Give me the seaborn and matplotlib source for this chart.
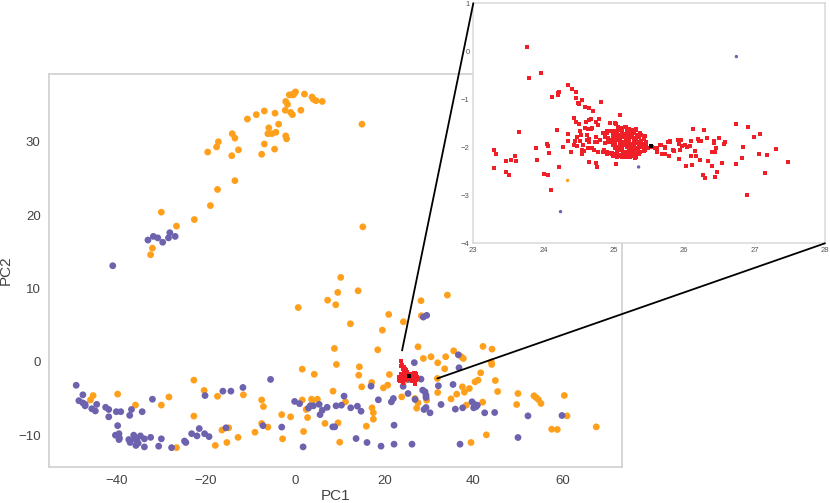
import matplotlib
matplotlib.use("Agg")
import matplotlib.pyplot as plt
from matplotlib.patches import ConnectionPatch
import seaborn as sns
import pandas as pd

# ---------------- data ----------------
orange_pc1 = [-32.4, -32.0, -30.0, -26.6, -22.6, -19.6, -19.0, -17.6, -17.2, -17.4, -14.1, -13.5, -14.2, -13.5,
              -12.7, -10.7, -8.7, -6.9, -7.5, -6.9, -5.9, -6.1, -5.2, -4.3, -3.7, -4.6, -4.5, -2.2, -2.1, -1.9,
              -2.1, -1.7, -1.0, -0.6, -1.3, -0.7, -0.2, 0.1, -0.4, 1.3, 2.1, 3.8, 4.1, 4.7, 6.1, 15.0, 15.2,
              -22.7, -22.7, -20.4, -17.4, -11.6, -39.8, -45.9, -45.3, -35.8, -30.0, -28.3, -26.6, -17.9, -16.4,
              -14.9, -15.3, -12.8, -9.0, -7.5, -7.1, -7.5, -6.1, -3.0, -2.8, -1.0, 0.7, 1.6, 4.3, 1.6, 1.9, 2.5,
              2.8, 3.7, 3.9, 5.0, 6.7, 7.3,
              10.24, 9.57, 9.12, 14.13, 34.16, 28.25, 12.41, 21.00, 24.29, 28.33, 19.58, 8.82, 18.54, 9.27, 14.42,
              14.28, 21.15, 14.95, 17.19, 19.81, 20.78, 8.52, 11.29, 27.58, 28.77, 30.49, 31.99, 33.78, 33.56,
              35.58, 37.29, 37.74, 42.15, 44.17, 44.02, 44.10, 41.63, 40.36, 41.03, 44.92, 31.91, 31.99, 36.25,
              37.52, 37.97, 39.09, 34.98, 38.42, 42.08, 45.44, 23.92, 26.91, 27.58, 29.52, 27.28, 17.26, 17.56,
              17.56, 15.99, 9.64, 10.01, 39.46, 42.90, 49.70, 50.00, 53.59, 54.04, 54.56, 55.16, 60.39, 60.99,
              57.55, 58.82, 67.56, 24.34]
orange_pc2 = [14.6, 15.5, 20.4, 18.5, 19.4, 28.6, 21.3, 29.3, 30.0, 23.5, 31.1, 30.5, 28.1, 24.7,
              28.9, 33.1, 33.7, 34.2, 28.3, 29.7, 31.9, 31.1, 31.1, 31.3, 32.4, 29.0, 33.9, 34.3, 30.8, 30.4,
              35.5, 35.1, 34.0, 33.7, 36.4, 36.4, 36.6, 36.8, 36.4, 34.3, 36.5, 36.1, 35.8, 35.6, 35.5, 32.4, 18.4,
              -2.5, -7.4, -3.9, -4.7, -4.5, -4.4, -5.2, -4.6, -5.9, -5.9, -4.8, -11.7, -11.4, -9.3,
              -9.0, -11.0, -10.3, -9.6, -5.2, -6.1, -8.4, -8.9, -7.2, -10.5, -7.5, 7.4, -1.0, -1.7, -5.2, -9.5, -6.5,
              -7.6, -5.1, -5.3, -5.1, -8.4, 8.4,
              11.51, 9.46, 7.78, 9.69, 9.10, 8.33, 5.19, 6.46, 5.46, 6.28, 4.32, 1.82, 1.64, -0.36, -0.68,
              -1.82, -1.73, -3.41, -2.82, -3.55, -3.18, -4.00, -5.46, 2.05, 0.46, 0.69, -0.13, 0.69, -0.95,
              1.50, 0.69, 0.46, 2.10, 1.73, 0.00, -0.36, -1.50, -2.73, -2.50, -2.55, -2.27, -4.18, -4.41,
              -3.41, -4.14, -3.64, -5.05, -5.91, -5.50, -4.05, -4.78, -5.00, -5.59, -5.23, -6.32, -6.27, -6.95,
              -7.82, -8.78, -8.32, -10.96, -11.00, -9.96, -5.82, -4.32, -4.64, -4.86, -5.14, -5.68, -4.59, -7.37,
              -9.19, -9.23, -8.87, -2.69]

purple_pc1 = [-33.0, -31.8, -30.8, -29.7, -28.4, -28.1, -26.9,
              -40.9, -49.1, -48.5, -47.6, -47.6, -47.1, -47.1, -45.6, -44.8, -44.5, -42.5, -41.8, -41.8, -40.1,
              -39.1, -39.8, -40.3, -39.5, -39.4, -39.5, -37.1, -36.7, -37.3, -37.0, -36.2, -35.9, -35.5, -35.7,
              -35.2, -34.7, -33.8, -33.8, -34.3, -32.4, -32.0, -30.6, -30.0, -27.7, -24.8, -24.5, -23.2, -22.0,
              -21.5, -20.3, -19.3, -20.2, -16.2, -14.4, -15.5, -11.7, -5.5, -7.2, -3.0, -0.1, 1.0, 1.8, 3.0,
              3.4, 4.1, 5.4, 5.6, 6.1, 7.2,
              28.77, 29.52, 26.74, 24.24, 25.34, 26.91, 28.25, 28.62, 29.15, 29.37, 29.37, 28.92, 29.37, 30.27,
              32.14, 32.74, 35.43, 35.95, 36.62, 36.77, 37.59, 39.69, 40.13, 40.58, 40.88, 40.06, 42.53, 44.77,
              52.24, 59.87, 50.00, 37.00, 26.23, 22.20, 19.28, 16.14, 13.68, 22.20, 8.45, 8.89, 10.99, 12.48,
              13.98, 14.80, 17.04, 18.68, 21.60, 22.05, 9.19, 10.39, 25.35]
purple_pc2 = [16.6, 17.1, 16.9, 16.3, 16.9, 17.6, 17.1,
              13.1, -3.2, -5.3, -4.5, -5.6, -5.8, -6.0, -6.4, -6.7, -5.8, -6.2, -7.5, -6.5, -6.8,
              -6.8, -8.7, -10.0, -9.8, -10.4, -10.6, -7.3, -6.5, -10.6, -11.0, -10.0, -10.5, -10.7, -11.4,
              -11.1, -10.1, -10.5, -11.6, -6.8, -10.3, -5.1, -11.5, -10.5, -11.7, -10.8, -11.0, -9.8, -10.1,
              -9.1, -9.8, -10.2, -4.6, -4.0, -4.0, -9.0, -3.5, -2.4, -8.7, -8.9, -5.4, -5.7, -11.6, -6.3,
              -6.0, -6.0, -5.8, -7.2, -6.6, -6.2,
              6.10, 6.33, -0.11, -3.34, -4.32, -5.13, -2.36, -3.86, -4.09, -4.55, -4.86, -6.50, -6.23, -6.95,
              -3.27, -5.82, -3.09, -6.45, 0.96, -0.81, -6.27, -5.45, -5.77, -6.13, -5.91, -6.27, -6.95, -6.91,
              -7.37, -7.32, -10.32, -11.23, -11.23, -11.23, -11.50, -11.00, -10.46, -8.64, -8.87, -8.87, -4.68, -6.27,
              -6.05, -6.73, -3.32, -5.18, -5.46, -5.00, -6.00, -5.91, -2.41]

red_pc1 = [23.76, 23.79, 23.96, 24.12, 24.20, 24.21, 24.22, 24.35, 24.41, 24.46, 24.46, 24.49, 24.50, 24.55,
           24.59, 24.65, 24.70, 24.82, 23.65, 23.29, 23.32, 23.30, 23.46, 23.51, 23.47, 23.53, 23.59, 23.61,
           23.89, 23.90, 24.05, 24.06, 24.07, 24.01, 24.06, 24.11, 24.22, 24.19, 24.27, 24.35, 24.34, 24.39,
           24.43, 24.46, 24.50, 24.52, 24.47, 24.53, 24.45, 24.43, 24.48, 24.52, 24.56, 24.54, 24.54, 24.57,
           24.61, 24.62, 24.60, 24.64, 24.67, 24.59, 24.63, 24.67, 24.69, 24.74, 24.77, 24.79, 24.74, 24.76,
           24.65, 24.65, 24.63, 24.69, 24.71, 24.77, 24.65, 24.74, 24.76,
           24.94, 25.03, 25.08, 24.95, 24.85, 24.90, 24.97, 24.92, 24.87, 24.80, 24.73, 24.86, 24.90, 24.97,
           25.02, 25.06, 25.13, 25.23, 25.30, 25.03, 25.02, 25.12, 25.16, 25.25, 25.32, 24.90, 24.87, 24.92,
           24.97, 24.94, 24.99, 24.85, 24.90, 24.94, 24.99, 25.04, 24.97, 25.09, 25.18, 25.23, 25.32, 25.42,
           25.44, 25.49, 25.54, 25.23, 25.27, 25.32, 25.37, 25.44,
           25.06, 25.11, 25.17, 25.21,
           25.01, 25.07, 25.12, 25.18, 25.24, 25.29,
           24.99, 25.05, 25.10, 25.16, 25.21, 25.27, 25.33, 25.38,
           24.98, 25.04, 25.09, 25.14, 25.20, 25.25, 25.31, 25.36, 25.42,
           25.00, 25.06, 25.11, 25.17, 25.22, 25.28, 25.33, 25.39, 25.45,
           25.02, 25.08, 25.13, 25.19, 25.24, 25.30, 25.35, 25.41, 25.46,
           25.01, 25.07, 25.12, 25.18, 25.23, 25.29, 25.34, 25.40, 25.45,
           25.04, 25.10, 25.15, 25.21, 25.26, 25.32, 25.37, 25.42,
           25.07, 25.13, 25.19, 25.24, 25.30, 25.35,
           25.12, 25.18, 25.25, 25.31,
           25.58, 25.67, 25.61, 25.73, 25.73, 25.68, 25.77, 25.61, 25.66, 25.72, 25.78, 25.80, 25.85,
           25.65, 25.72, 25.69, 25.78, 25.79, 25.84, 25.91, 25.95, 25.93, 25.96, 25.93, 25.94, 26.01, 26.04,
           26.08, 26.10, 26.03, 26.12, 26.09, 26.11, 26.15, 26.17, 26.19, 26.21, 26.24, 26.23, 26.28, 26.32,
           26.33, 26.27, 26.30, 26.39, 26.42, 26.42, 26.45, 26.44, 26.40, 26.47, 26.43, 26.49, 26.53, 26.56,
           26.58, 26.74, 26.74, 26.84, 26.82, 26.90, 26.89, 26.99, 27.07, 27.06, 27.15, 27.18, 27.30, 27.48]
red_pc2 = [0.08, -0.56, -0.46, -0.96, -0.86, -0.91, -0.84, -0.71, -0.78, -0.85, -0.97, -1.07, -1.10, -1.01,
           -1.15, -1.19, -1.25, -1.05, -1.69, -2.06, -2.13, -2.44, -2.51, -2.58, -2.29, -2.27, -2.18, -2.29,
           -2.02, -2.26, -1.94, -1.97, -2.12, -2.56, -2.57, -2.88, -2.40, -1.63, -1.99, -1.72, -1.86, -2.10,
           -1.38, -1.48, -1.52, -1.65, -1.78, -1.75, -1.86, -1.95, -1.97, -1.86, -1.96, -2.06, -2.14, -2.07,
           -1.75, -1.85, -1.47, -1.44, -1.40, -1.60, -1.61, -1.61, -1.60, -1.47, -1.54, -1.42, -1.78, -1.89,
           -1.89, -1.83, -2.01, -2.01, -2.06, -2.09, -2.31, -2.33, -2.42,
           -1.50, -1.52, -1.33, -1.65, -1.71, -1.71, -1.85, -1.88, -1.92, -1.85, -1.88, -2.06, -2.09, -2.11,
           -2.13, -2.18, -2.21, -2.21, -2.23, -2.35, -1.50, -1.67, -1.57, -1.64, -1.62, -1.67, -1.78, -1.81,
           -1.67, -1.88, -1.95, -2.09, -2.13, -2.11, -2.18, -2.21, -2.14, -2.18, -2.14, -2.18, -2.13, -1.78,
           -2.06, -2.02, -1.99, -1.63, -1.65, -1.63, -1.71, -1.77,
           -1.57, -1.60, -1.58, -1.61,
           -1.66, -1.64, -1.67, -1.65, -1.66, -1.68,
           -1.73, -1.71, -1.74, -1.72, -1.73, -1.71, -1.74, -1.75,
           -1.80, -1.78, -1.81, -1.79, -1.80, -1.78, -1.81, -1.79, -1.82,
           -1.87, -1.85, -1.88, -1.86, -1.87, -1.85, -1.88, -1.86, -1.89,
           -1.94, -1.92, -1.95, -1.93, -1.94, -1.92, -1.95, -1.93, -1.96,
           -2.01, -1.99, -2.02, -2.00, -2.01, -1.99, -2.02, -2.00, -2.02,
           -2.08, -2.06, -2.09, -2.07, -2.08, -2.06, -2.09, -2.07,
           -2.15, -2.13, -2.16, -2.14, -2.15, -2.13,
           -2.20, -2.21, -2.19, -2.20,
           -2.02, -1.95, -2.09, -2.00, -2.13, -2.13, -1.88, -2.01, -1.96, -2.02, -2.19, -1.88, -2.07,
           -1.95, -2.02, -2.13, -2.19, -1.87, -2.06, -1.85, -1.85, -1.94, -1.97, -2.25, -2.06, -1.95, -2.00,
           -1.97, -1.86, -2.38, -1.61, -2.19, -2.36, -2.08, -2.19, -1.83, -1.86, -1.86, -2.26, -1.63, -1.81,
           -2.28, -2.58, -2.63, -2.09, -1.87, -1.92, -2.02, -2.09, -2.38, -2.51, -2.61, -1.81, -2.33, -1.94,
           -1.89, -2.35, -1.52, -1.99, -2.22, -1.57, -2.99, -1.78, -1.72, -2.13, -2.54, -2.15, -2.04, -2.31]

center_pc1 = [25.52]
center_pc2 = [-1.97]

main_xticks = [-40, -20, 0, 20, 40, 60]
main_yticks = [-10, 0, 10, 20, 30]
inset_xticks = [23, 24, 25, 26, 27, 28]
inset_yticks = [-4, -3, -2, -1, 0, 1]

ORANGE = "#ffa01c"
PURPLE = "#6c62ae"
RED = "#ee1f26"

df = pd.DataFrame({
    "PC1": orange_pc1 + purple_pc1,
    "PC2": orange_pc2 + purple_pc2,
    "group": ["A"] * len(orange_pc1) + ["B"] * len(purple_pc1),
})
red_df = pd.DataFrame({"PC1": red_pc1, "PC2": red_pc2})
ctr_df = pd.DataFrame({"PC1": center_pc1, "PC2": center_pc2})
pal = {"A": ORANGE, "B": PURPLE}

# ---------------- style ----------------
sns.set_theme(style="whitegrid")
plt.rcParams["font.family"] = ["Liberation Sans", "DejaVu Sans"]

fig = plt.figure(figsize=(8.3, 5.03), dpi=100)
W, H = 830, 503
ax = fig.add_axes([49 / W, (H - 466.7) / H, (622.3 - 49) / W, (466.7 - 74.3) / H])
axins = fig.add_axes([473.3 / W, (H - 243.3) / H, (825 - 473.3) / W, (243.3 - 3.3) / H])
axins.set_zorder(3)

# main
sns.scatterplot(data=df, x="PC1", y="PC2", hue="group", palette=pal, s=24,
                linewidth=0, legend=False, ax=ax)
sns.scatterplot(data=red_df, x="PC1", y="PC2", color=RED, marker="s", s=9,
                linewidth=0, legend=False, ax=ax)
sns.scatterplot(data=ctr_df, x="PC1", y="PC2", color="black", marker="s", s=9,
                linewidth=0, legend=False, ax=ax)
ax.set_xlim(-55.2, 73.4)
ax.set_ylim(-14.3, 39.2)
ax.set_xticks(main_xticks)
ax.set_yticks(main_yticks)
ax.grid(False)
ax.set_facecolor("white")
for sp in ax.spines.values():
    sp.set_color("#d3d3d3")
    sp.set_linewidth(1.3)
ax.tick_params(axis="both", length=0, labelsize=9.5, colors="#444444", pad=6)
ax.set_xlabel("PC1", fontsize=11, color="#444444")
ax.set_ylabel("PC2", fontsize=11, color="#444444")
ax.xaxis.set_label_coords(0.5, -0.058)
ax.yaxis.set_label_coords(-0.063, 0.5)

# inset
sns.scatterplot(data=df, x="PC1", y="PC2", hue="group", palette=pal, s=6,
                linewidth=0, legend=False, ax=axins)
sns.scatterplot(data=red_df, x="PC1", y="PC2", color=RED, marker="s", s=10,
                linewidth=0, legend=False, ax=axins)
sns.scatterplot(data=ctr_df, x="PC1", y="PC2", color="black", marker="s", s=10,
                linewidth=0, legend=False, ax=axins)
axins.set_xlim(23, 28)
axins.set_ylim(-4, 1)
axins.set_xticks(inset_xticks)
axins.set_yticks(inset_yticks)
axins.grid(False)
axins.set_facecolor("white")
axins.set_xlabel("")
axins.set_ylabel("")
for sp in axins.spines.values():
    sp.set_color("#d8d8d8")
    sp.set_linewidth(1.1)
axins.tick_params(axis="both", length=0, labelsize=5.5, colors="#555555", pad=2.5)

# connector lines
for xyA, xyB in [((0, 1), (24.0, 1.55)), ((1, 0), (31.9, -2.27))]:
    con = ConnectionPatch(xyA=xyA, coordsA=axins.transAxes, xyB=xyB, coordsB=ax.transData,
                          color="black", linewidth=1.3, zorder=10)
    fig.add_artist(con)

fig.savefig("out.png", dpi=100)
